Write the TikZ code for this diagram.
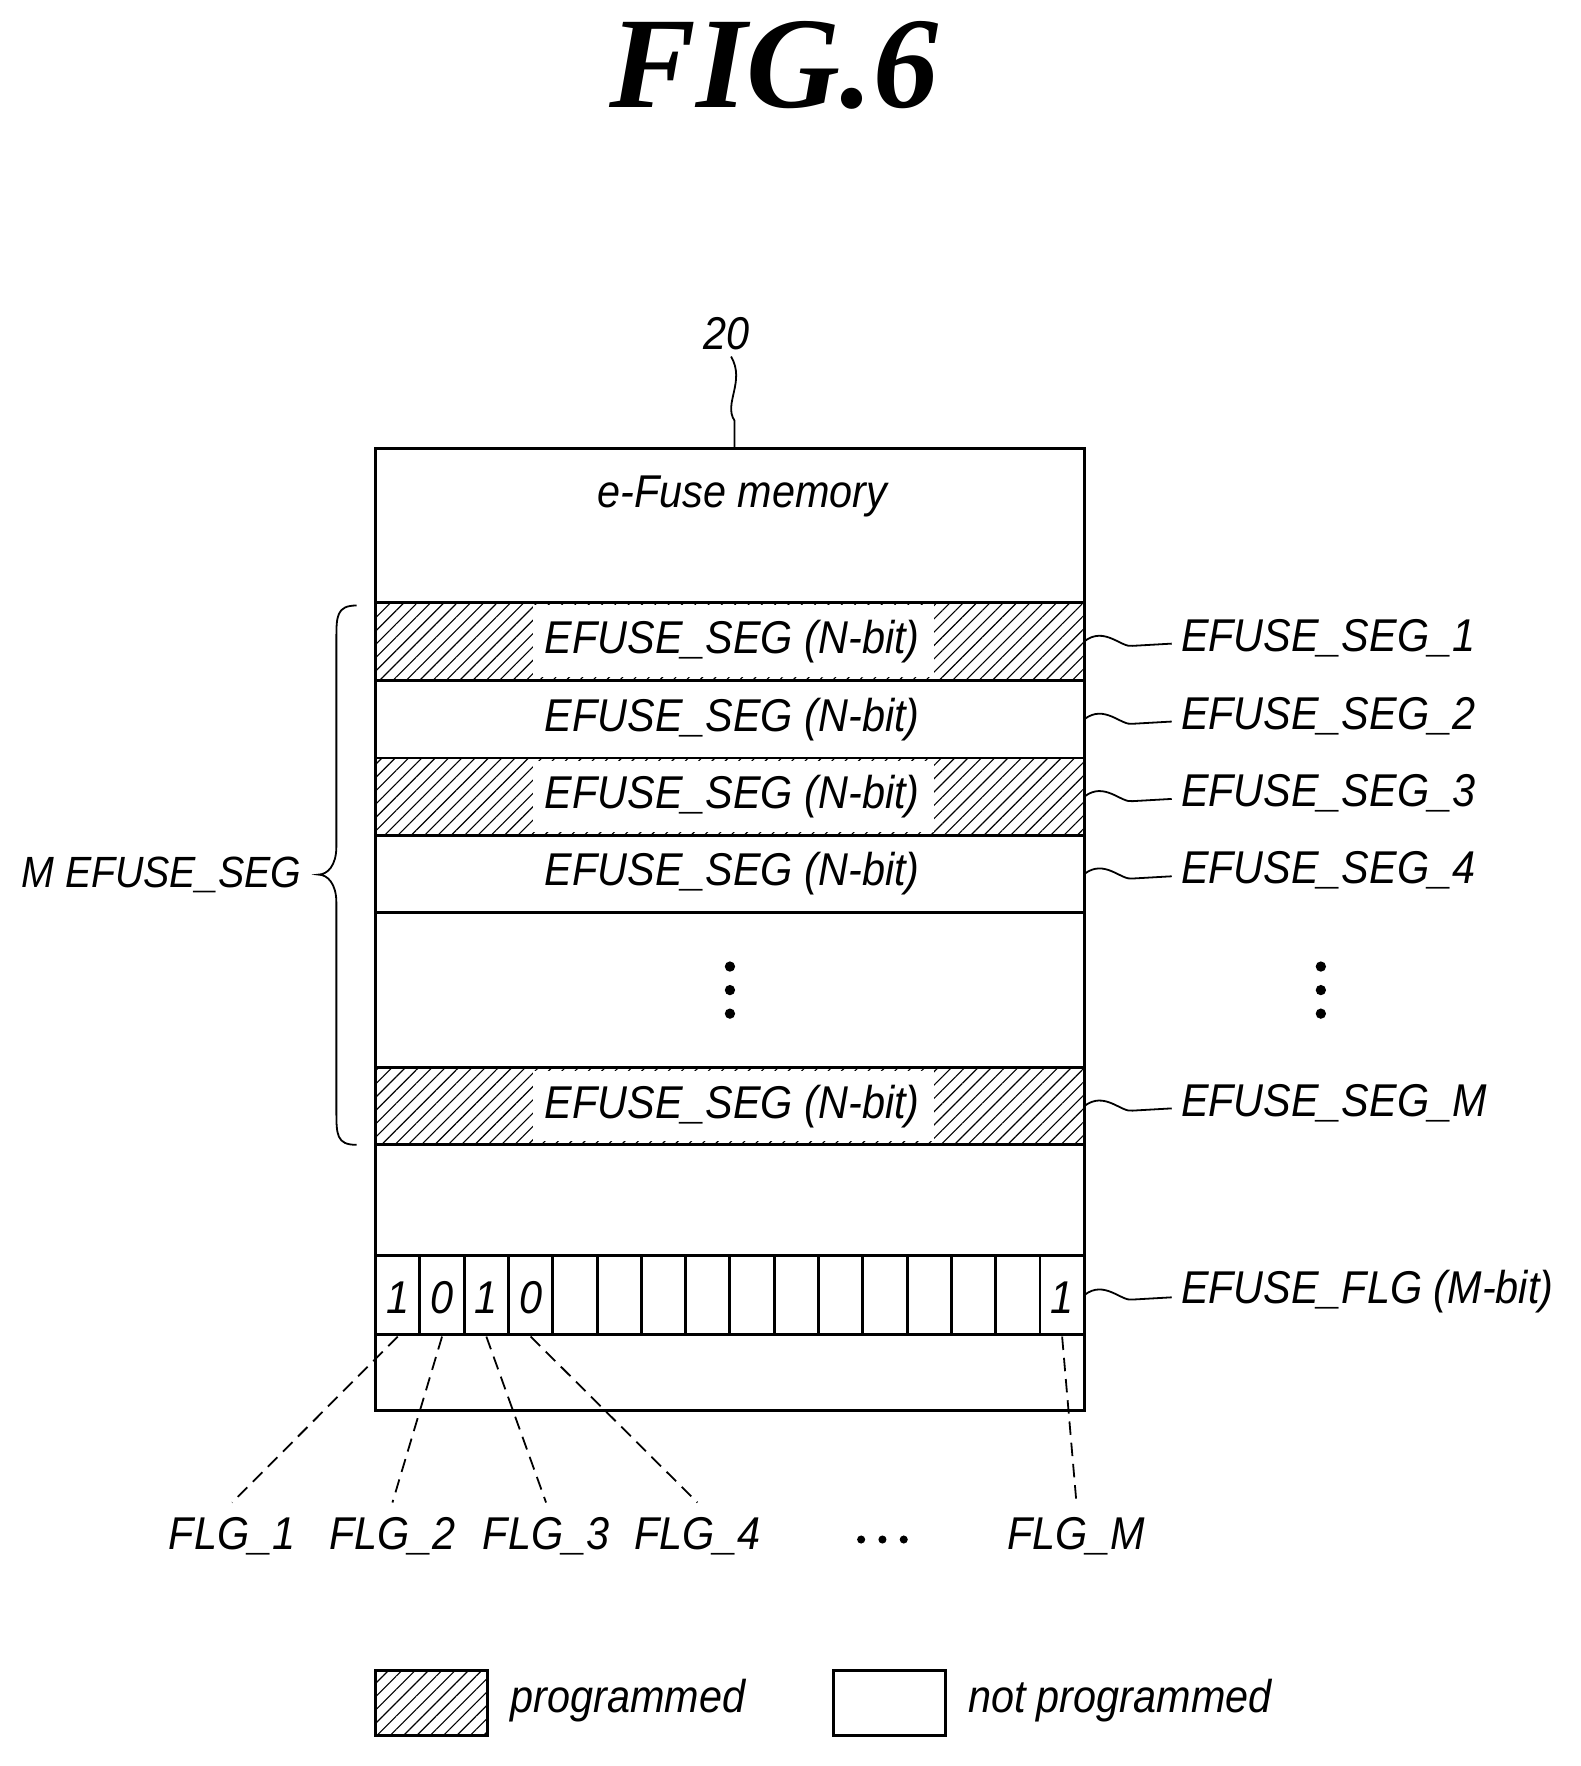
\documentclass[tikz,border=0pt]{standalone}
\usepackage{fontspec}
\setmainfont[FakeStretch=0.9]{Liberation Sans}
\newfontfamily\titlefont{Liberation Serif}
\usetikzlibrary{patterns.meta,decorations.pathreplacing}
\begin{document}
\begin{tikzpicture}[x=0.5pt,y=-0.5pt,line width=1.3pt,
  lbl/.style={font=\fontsize{20.5}{23}\selectfont\itshape,inner sep=1pt},
  hatch/.style={pattern={Lines[angle=45,distance=4.2pt,line width=0.5pt]}},
  sq/.style={line width=0.8pt},
  dsh/.style={line width=0.8pt,dash pattern=on 6pt off 3.5pt}]
\useasboundingbox (0,0) rectangle (1410,1575);
\node[font=\titlefont\fontsize{58}{60}\selectfont\bfseries\itshape] (title) at (690,58) {FIG.6};
% main box
\draw (335,400) rectangle (967,1258);
\node[lbl] (n20) at (648,298) {20};
\draw[sq] (652,318) .. controls (665,340) and (645,360) .. (655,375) -- (655,400);
\node[lbl] (mem) at (662,443) {e-Fuse memory};
% segments
\foreach \t/\b/\h/\nm/\lab in {537/607/1/s1/EFUSE\_SEG\_1,607/676/0/s2/EFUSE\_SEG\_2,676/745/1/s3/EFUSE\_SEG\_3,745/814/0/s4/EFUSE\_SEG\_4,952/1021/1/sM/EFUSE\_SEG\_M}{
  \ifnum\h=1
    \fill[hatch] (335,\t) rectangle (967,\b);
    \fill[white] (475,\t+3) rectangle (833,\b-3);
  \fi
  \draw (335,\t) rectangle (967,\b);
  \node[lbl] (\nm) at (653,{(\t+\b)/2}) {EFUSE\_SEG (N-bit)};
  \node[lbl,anchor=west] (\nm r) at (1050,{(\t+\b)/2-3}) {\lab};
  \draw[sq] (967,{(\t+\b)/2}) .. controls (985,{(\t+\b)/2-14}) and (1000,{(\t+\b)/2+6}) .. (1010,{(\t+\b)/2+4}) -- (1045,{(\t+\b)/2+2});
}
% dots
\foreach \x in {651,1178}{\foreach \y in {862,883,904}{\fill (\x,\y) circle (2.3pt);}}
% brace
\draw[line width=0.8pt] (318,540) .. controls (300,540) and (300,550) .. (300,570) -- (300,755) .. controls (300,772) and (292,780) .. (284,780)
  .. controls (292,780) and (300,788) .. (300,805) -- (300,990) .. controls (300,1012) and (300,1021) .. (318,1021);
\node[lbl,anchor=east,font=\fontsize{19.5}{22}\selectfont\itshape] (mseg) at (272,780) {M EFUSE\_SEG};
% flag row
\draw (335,1120) rectangle (967,1190);
\foreach \i in {1,...,15}{\draw (335+\i*39.5,1120) -- (335+\i*39.5,1190);}
\foreach \i/\v in {1/1,2/0,3/1,4/0,16/1}{\node[lbl] (c\i) at (335+\i*39.5-19.75,1157) {\v};}
\node[lbl,anchor=west] (flg) at (1050,1152) {EFUSE\_FLG (M-bit)};
\draw[sq] (967,1155) .. controls (985,1141) and (1000,1161) .. (1010,1159) -- (1045,1157);
% flag labels
\foreach \i/\x/\lab in {1/207/FLG\_1,2/350/FLG\_2,3/487/FLG\_3,4/622/FLG\_4,16/960/FLG\_M}{
  \node[lbl] (f\i) at (\x,1370) {\lab};
  \coordinate (b\i) at (335+\i*39.5-19.75,1192);
  \coordinate (t\i) at (\x,1340);
  \draw[dsh] (b\i) -- (t\i);
}
\foreach \x in {768,787,806}{\fill (\x,1373) circle (1.8pt);}
\coordinate (fdots) at (787,1373);
% legend
\draw[hatch] (335,1490) rectangle (435,1548);
\node[lbl,anchor=west] (lp) at (452,1517) {programmed};
\draw (743,1490) rectangle (843,1548);
\node[lbl,anchor=west] (lnp) at (860,1517) {not programmed};
\end{tikzpicture}
\end{document}
